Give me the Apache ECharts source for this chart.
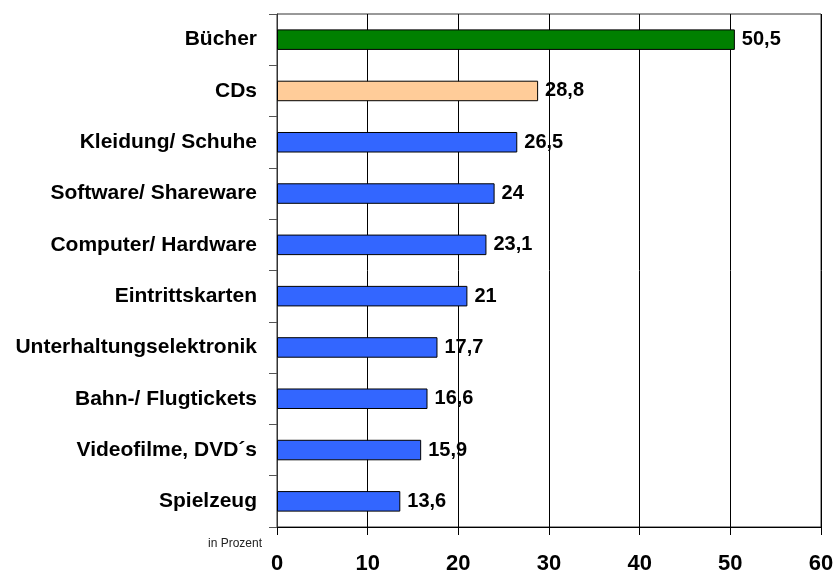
<!DOCTYPE html>
<html>
<head>
<meta charset="utf-8">
<script src="https://cdn.jsdelivr.net/npm/echarts@6/dist/echarts.min.js"></script>
<style>
  html, body { margin: 0; padding: 0; background: #fff; }
  #chart { width: 834px; height: 576px; }
</style>
</head>
<body>
<div id="chart"></div>
<script>
// Kategorien (von oben nach unten)
const categories = ["Bücher", "CDs", "Kleidung/ Schuhe", "Software/ Shareware", "Computer/ Hardware",
  "Eintrittskarten", "Unterhaltungselektronik", "Bahn-/ Flugtickets", "Videofilme, DVD´s", "Spielzeug"];
const values = [50.5, 28.8, 26.5, 24, 23.1, 21, 17.7, 16.6, 15.9, 13.6];
const barColors = ["#008000", "#ffcc99", "#3366ff", "#3366ff", "#3366ff",
  "#3366ff", "#3366ff", "#3366ff", "#3366ff", "#3366ff"];
const xTicks = [0, 10, 20, 30, 40, 50, 60];

const font = "'Liberation Sans', Arial, sans-serif";

const chart = echarts.init(document.getElementById("chart"));
chart.setOption({
  animation: false,
  grid: {
    left: 277, right: 13, top: 14, bottom: 49, outerBoundsMode: "none",
    show: true, borderColor: "#333", borderWidth: 1
  },
  xAxis: {
    type: "value", min: xTicks[0], max: xTicks[xTicks.length - 1], interval: 10,
    axisLine: { show: true, lineStyle: { color: "#000", width: 1 } },
    axisTick: { show: true, length: 8, lineStyle: { color: "#000" } },
    splitLine: { show: true, lineStyle: { color: "#000", width: 1 } },
    axisLabel: { margin: 26, color: "#000", fontFamily: font, fontWeight: "bold", fontSize: 22 }
  },
  yAxis: {
    type: "category", data: categories, inverse: true,
    axisLine: { show: true, lineStyle: { color: "#333", width: 1 } },
    axisTick: { show: true, length: 8, lineStyle: { color: "#555" } },
    axisLabel: { margin: 20, color: "#000", fontFamily: font, fontWeight: "bold", fontSize: 21 }
  },
  graphic: [{
    type: "text", right: 834 - 262, top: 538,
    style: { text: "in Prozent", fill: "#222", font: "12px " + font, textAlign: "right" }
  }],
  series: [{
    type: "bar",
    data: values.map((v, i) => ({ value: v, itemStyle: { color: barColors[i] } })),
    barCategoryGap: "60%",
    itemStyle: { borderColor: "#000", borderWidth: 1 },
    label: {
      show: true, position: "right", distance: 7, color: "#000",
      fontFamily: font, fontWeight: "bold", fontSize: 20,
      formatter: p => String(p.value).replace(".", ",")
    }
  }]
});
</script>
</body>
</html>
